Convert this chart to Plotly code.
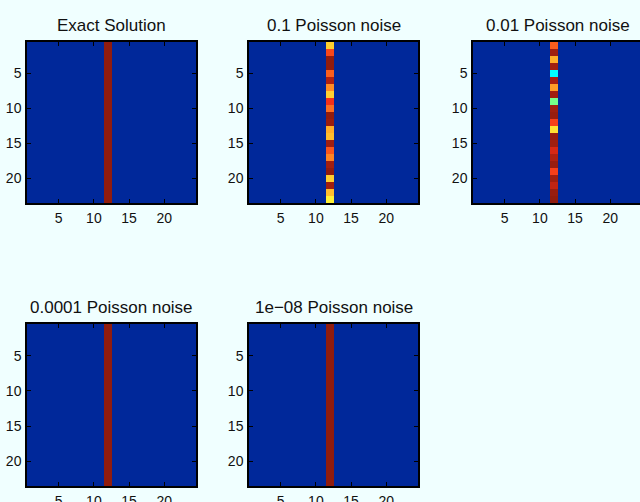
import numpy as np
import plotly.graph_objects as go

# ---- data -------------------------------------------------------------
n_rows, n_cols = 23, 24
spike_col = 12
titles = ["Exact Solution", "0.1 Poisson noise", "0.01 Poisson noise",
          "0.0001 Poisson noise", "1e\u221208 Poisson noise"]

exact_col = [1.0] * 23
noise_01_col = [0.67, 0.84, 1.0, 1.0, 0.81, 0.96, 0.75, 0.67, 0.87, 0.79, 1.0, 0.99,
                0.71, 0.69, 0.98, 0.82, 0.76, 0.98, 1.0, 0.67, 0.98, 0.69, 0.63]
noise_001_col = [0.81, 0.98, 0.71, 0.98, 0.375, 0.97, 0.73, 0.98, 0.49, 0.98, 0.99, 0.85,
                 0.65, 0.99, 0.98, 0.91, 0.96, 0.99, 0.85, 0.98, 0.94, 0.99, 1.0]
noise_1e4_col = [1.0] * 23
noise_1e8_col = [1.0] * 23
columns = [exact_col, noise_01_col, noise_001_col, noise_1e4_col, noise_1e8_col]
tick_vals = [5, 10, 15, 20]

jet = [[0.0, "#00289A"], [0.125, "#0020FF"], [0.375, "#00FFFF"], [0.5, "#80FF80"],
       [0.625, "#FFF538"], [0.75, "#FF8C24"], [0.875, "#F52C18"], [1.0, "#901C0E"]]

# panel boxes in pixels: (left, right, top, bottom)
W, H = 640, 502
boxes = [(27, 196, 42, 203), (249, 418, 42, 203), (473, 640, 42, 203),
         (27, 196, 324, 486), (249, 418, 324, 486)]

fig = go.Figure()
xs = list(range(1, n_cols + 1))
ys = list(range(1, n_rows + 1))
for i, (col, title, box) in enumerate(zip(columns, titles, boxes)):
    z = np.zeros((n_rows, n_cols))
    z[:, spike_col - 1] = col
    k = "" if i == 0 else str(i + 1)
    fig.add_trace(go.Heatmap(z=z, x=xs, y=ys, colorscale=jet, zmin=0, zmax=1,
                             showscale=False, xaxis="x" + k, yaxis="y" + k,
                             hoverinfo="skip"))
    l, r, t, b = box
    xmax = 24.5 if r < 640 else 0.5 + (r - l) / (169 / 24)
    common = dict(showgrid=False, zeroline=False, ticks="inside", ticklen=4,
                  tickcolor="black", showline=True, linecolor="black", linewidth=1.5,
                  automargin=False, tickvals=tick_vals,
                  tickfont=dict(family="Liberation Sans", size=14, color="#111111"))
    fig.update_layout(**{
        "xaxis" + k: dict(domain=[l / W, r / W], range=[0.5, xmax], anchor="y" + k,
                          mirror="ticks", ticklabelstandoff=1, **common),
        "yaxis" + k: dict(domain=[1 - b / H, 1 - t / H], range=[23.5, 0.5],
                          anchor="x" + k, mirror="ticks" if r < 640 else False,
                          ticklabelstandoff=1, **common),
    })
    fig.add_annotation(text=title, xref="paper", yref="paper",
                       x=((l + (l + 169)) / 2) / W, y=1 - t / H, yshift=5,
                       xanchor="center", yanchor="bottom", showarrow=False,
                       font=dict(family="Liberation Sans", size=17, color="#111111"))

fig.update_layout(width=W, height=H, margin=dict(l=0, r=0, t=0, b=0, pad=0,
                                                 autoexpand=False),
                  paper_bgcolor="#F0FFFF", plot_bgcolor="#F0FFFF", showlegend=False)
fig.write_html("out.html")
